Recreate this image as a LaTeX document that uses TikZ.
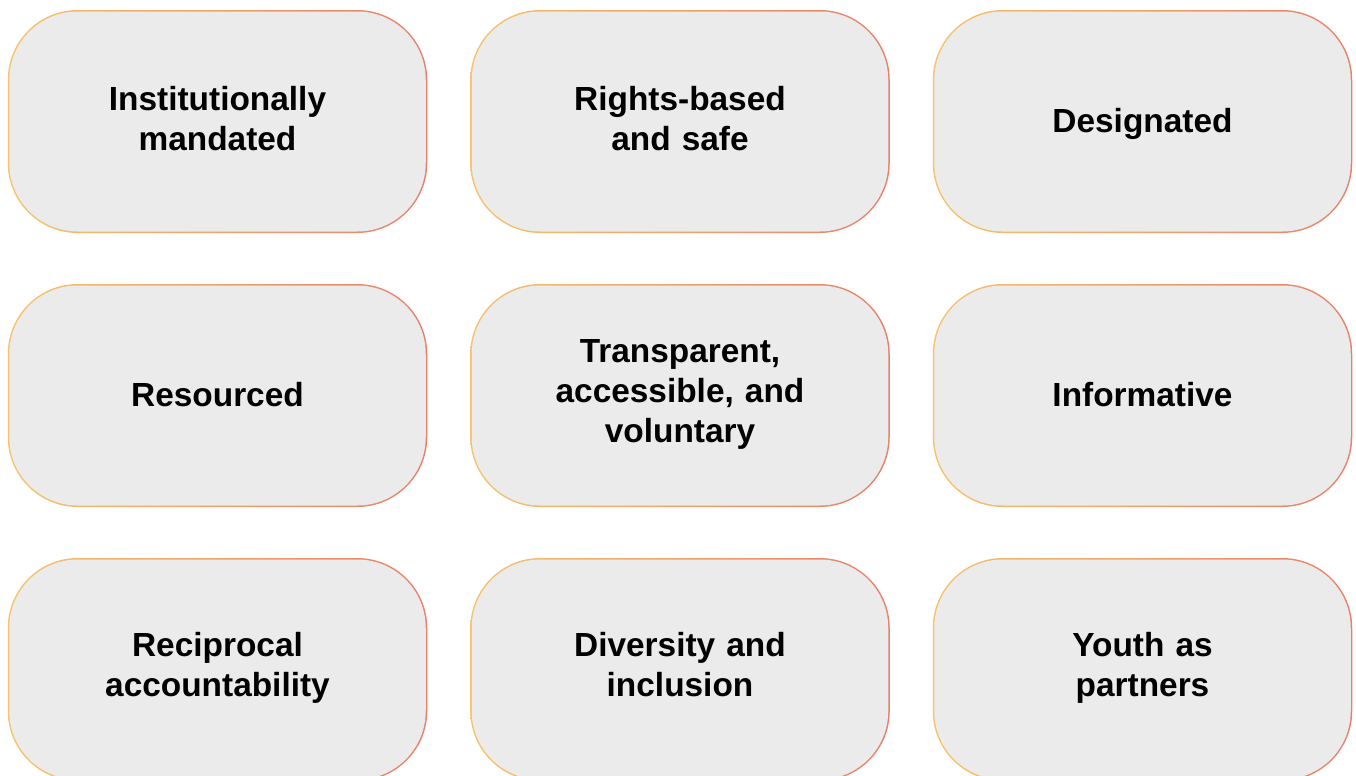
\documentclass[tikz,border=0pt]{standalone}
\usepackage{fontspec}
\setmainfont{Liberation Sans}
\usepackage{tikz}
\usetikzlibrary{positioning}
\definecolor{bordL}{HTML}{F6C46C}
\definecolor{bordR}{HTML}{E97F6B}
\definecolor{boxgray}{HTML}{EBEBEB}
\newlength\cardlift
\newcommand\cardstrut{\rule[\dimexpr-4.3pt-\cardlift\relax]{0pt}{20pt}}
\tikzset{
  textlift/.code={\setlength\cardlift{#1}},
  card/.style={rounded corners=35pt, minimum width=209.75pt, minimum height=111.5pt,
    left color=bordL, right color=bordR, align=center, text width=190pt,
    font=\bfseries\fontsize{16.7}{20}\selectfont, textlift=0pt,
    execute at begin node=\cardstrut, execute at end node=\cardstrut,
    path picture={\fill[boxgray, rounded corners=34.25pt]
      ([shift={(0.75pt,-0.75pt)}]path picture bounding box.north west) rectangle
      ([shift={(-0.75pt,0.75pt)}]path picture bounding box.south east);}}
}
\begin{document}
\begin{tikzpicture}[x=0.5pt,y=-0.5pt]
                \clip (0,0) rectangle (1356,776);
                \fill[white] (0,0) rectangle (1356,776);
                % first row
                \node[card, textlift=1pt] (mandated) at (217.5,121.5) {Institutionally\\mandated};
                \node[card, textlift=1pt] (rights) at (680,121.5) {Rights-based\\and safe};
                \node[card] (designated) at (1142.5,121.5) {Designated};
                % second row
                \node[card] (resourced) at (217.5,395.5) {Resourced};
                \node[card, textlift=2pt] (transparent) at (680,395.5) {Transparent,\\accessible, and\\voluntary};
                \node[card] (informative) at (1142.5,395.5) {Informative};
                % third row
                \node[card, textlift=2.25pt] (reciprocal) at (217.5,669.5) {Reciprocal\\accountability};
                \node[card, textlift=2.25pt] (diversity) at (680,669.5) {Diversity and\\inclusion};
                \node[card, textlift=2.25pt] (youth) at (1142.5,669.5) {Youth as\\partners};
            \end{tikzpicture}
\end{document}
